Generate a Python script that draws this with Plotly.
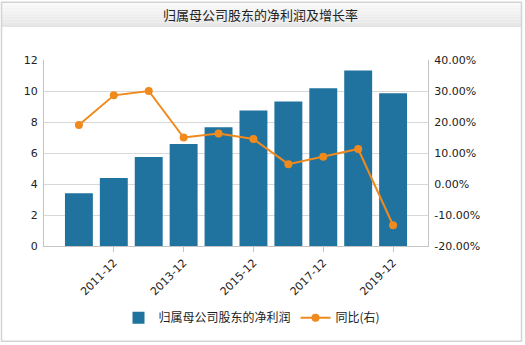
import plotly.graph_objects as go

# Annual net profit attributable to parent shareholders and YoY growth
periods = ["2010-12", "2011-12", "2012-12", "2013-12", "2014-12",
           "2015-12", "2016-12", "2017-12", "2018-12", "2019-12"]
net_profit = [3.41, 4.39, 5.75, 6.58, 7.66, 8.75, 9.33, 10.17, 11.33, 9.85]
yoy_pct = [19.0, 28.6, 30.0, 15.0, 16.3, 14.5, 6.4, 8.8, 11.3, -13.3]

left_ticks = [0, 2, 4, 6, 8, 10, 12]
right_ticks = [-20, -10, 0, 10, 20, 30, 40]
right_labels = [f"{v:.2f}%" for v in right_ticks]
x_tick_periods = ["2011-12", "2013-12", "2015-12", "2017-12", "2019-12"]

title_text = "归属母公司股东的净利润及增长率"
bar_name = "归属母公司股东的净利润"
line_name = "同比(右)"

W, H = 525, 345
L, R, T, B = 44, 428, 59.5, 246


def px(x):
    return (x - L) / (R - L)


def py(y):
    return (B - y) / (B - T)


bar_color = "#21739f"
line_color = "#f08a1c"
axis_color = "#c4c4c4"
grid_color = "#d8d8d8"
tick_font = dict(family="DejaVu Sans", size=11, color="#222222")

fig = go.Figure()
fig.add_trace(go.Bar(
    x=periods, y=net_profit, name=bar_name,
    marker=dict(color=bar_color, line=dict(width=0)),
    width=0.8, yaxis="y",
))
fig.add_trace(go.Scatter(
    x=periods, y=yoy_pct, name=line_name, mode="lines+markers",
    line=dict(color=line_color, width=2),
    marker=dict(color=line_color, size=8),
    yaxis="y2",
))

# Title band with a soft vertical gradient and frame around the chart
shapes = []
band_top, band_bot = 1, 25
steps = 8
c0, c1 = (250, 250, 250), (232, 232, 232)
for i in range(steps):
    y0 = band_top + (band_bot - band_top) * i / steps
    y1 = band_top + (band_bot - band_top) * (i + 1) / steps
    t = i / (steps - 1)
    c = tuple(int(c0[k] + (c1[k] - c0[k]) * t) for k in range(3))
    shapes.append(dict(type="rect", xref="paper", yref="paper",
                       x0=px(1.5), x1=px(521), y0=py(y1), y1=py(y0),
                       fillcolor=f"rgb{c}", line=dict(width=0), layer="below"))
shapes.append(dict(type="line", xref="paper", yref="paper",
                   x0=px(1.5), x1=px(521), y0=py(25.5), y1=py(25.5),
                   line=dict(color="#cfcfcf", width=1)))
shapes.append(dict(type="rect", xref="paper", yref="paper",
                   x0=px(1.5), x1=px(521.5), y0=py(341.5), y1=py(1.5),
                   line=dict(color="#d4d4d4", width=1.5)))

fig.update_layout(
    width=W, height=H,
    margin=dict(l=L, r=W - R, t=T, b=H - B, pad=0),
    paper_bgcolor="white", plot_bgcolor="white",
    showlegend=True,
    legend=dict(orientation="h", x=px(252), xanchor="center",
                y=py(318), yanchor="middle",
                font=dict(family="Noto Sans CJK SC", size=12, color="#222222"),
                itemwidth=30, tracegroupgap=0,
                bgcolor="rgba(0,0,0,0)"),
    bargap=0.2,
    xaxis=dict(
        type="category", categoryorder="array", categoryarray=periods,
        range=[-1, len(periods)],
        tickmode="array", tickvals=x_tick_periods, ticktext=x_tick_periods,
        tickangle=-45, ticks="outside", ticklen=5, tickcolor=axis_color,
        showline=True, linecolor=axis_color, linewidth=1,
        showgrid=False, zeroline=False, tickfont=tick_font,
    ),
    yaxis=dict(
        range=[0, 12], tickmode="array", tickvals=left_ticks,
        showline=True, linecolor=axis_color, linewidth=1,
        showgrid=True, gridcolor=grid_color, gridwidth=1,
        zeroline=False, ticks="", tickfont=tick_font, ticklabelstandoff=3,
    ),
    yaxis2=dict(
        range=[-20, 40], overlaying="y", side="right",
        tickmode="array", tickvals=right_ticks, ticktext=right_labels,
        showline=True, linecolor=axis_color, linewidth=1,
        showgrid=False, zeroline=False, ticks="", tickfont=tick_font,
        ticklabelstandoff=3,
    ),
    shapes=shapes,
    annotations=[dict(
        text=title_text, xref="paper", yref="paper",
        x=px(260), y=py(13.5), xanchor="center", yanchor="middle",
        showarrow=False,
        font=dict(family="Noto Sans CJK SC", size=13, color="#222222"),
    )],
)

fig.write_html("out.html")
